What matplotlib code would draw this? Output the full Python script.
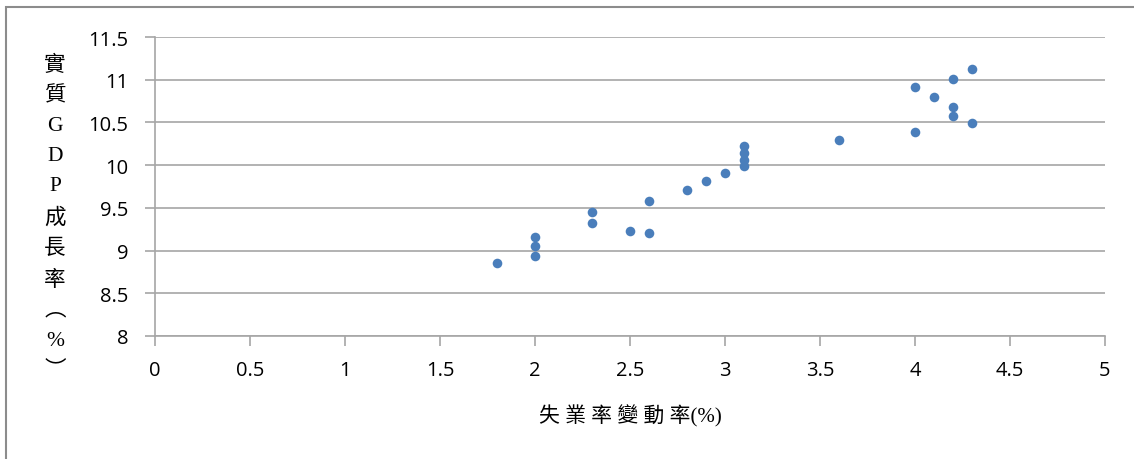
import matplotlib.pyplot as plt
from matplotlib.patches import Rectangle

# 失業率變動率 vs 實質GDP成長率
unemp = [1.8, 2.0, 2.0, 2.0, 2.3, 2.3, 2.5, 2.6, 2.6, 2.8, 2.9, 3.0,
         3.1, 3.1, 3.1, 3.1, 3.6, 4.0, 4.0, 4.1, 4.2, 4.2, 4.2, 4.3, 4.3]
gdp = [8.86, 9.16, 9.05, 8.94, 9.45, 9.32, 9.23, 9.20, 9.58, 9.71, 9.81, 9.91,
       10.22, 10.14, 10.06, 9.99, 10.30, 10.91, 10.39, 10.80, 11.01, 10.68, 10.58, 11.13, 10.49]

xticks = [0, 0.5, 1, 1.5, 2, 2.5, 3, 3.5, 4, 4.5, 5]
yticks = [8, 8.5, 9, 9.5, 10, 10.5, 11, 11.5]
xticklabels = ["0", "0.5", "1", "1.5", "2", "2.5", "3", "3.5", "4", "4.5", "5"]
yticklabels = ["8", "8.5", "9", "9.5", "10", "10.5", "11", "11.5"]

cjk = ['Liberation Serif', 'Noto Sans CJK TC']
gray = '#a6a6a6'

fig = plt.figure(figsize=(11.34, 4.6), dpi=100)
ax = fig.add_axes([155/1134, 1-337/460, 950/1134, 299/460])

ax.scatter(unemp, gdp, s=48, color='#4a7ebb', zorder=3, linewidths=0)

ax.set_xlim(0, 5)
ax.set_ylim(8, 11.5)
ax.set_xticks(xticks)
ax.set_xticklabels(xticklabels, fontsize=14.5, family='Open Sans')
ax.set_yticks(yticks)
ax.set_yticklabels(yticklabels, fontsize=14.5, family='Open Sans')
ax.yaxis.grid(True, color=gray, linewidth=1.2)
ax.set_axisbelow(True)
for s in ['top', 'right']:
    ax.spines[s].set_visible(False)
for s in ['left', 'bottom']:
    ax.spines[s].set_color(gray)
    ax.spines[s].set_linewidth(1.2)
ax.tick_params(axis='both', direction='out', length=7, width=1.2, color=gray)
ax.tick_params(axis='y', pad=12)
ax.tick_params(axis='x', pad=10)

ax.set_xlabel("失 業 率 變 動 率(%)", family=cjk, fontsize=15, labelpad=18)

ylab = "\n".join(["實", "質", "G", "D", "P", "成", "長", "率", "︵", "%", "︶"])
fig.text(55/1134, 1-218/460, ylab, family=cjk, fontsize=15.5, ha='center', va='center',
         linespacing=1.78)

fig.patches.append(Rectangle((6/1134, -0.1), 1.2, (1-8/460) + 0.1, transform=fig.transFigure,
                             fill=False, edgecolor='#8c8c8c', linewidth=1.5))

fig.savefig("out.png", dpi=100)
